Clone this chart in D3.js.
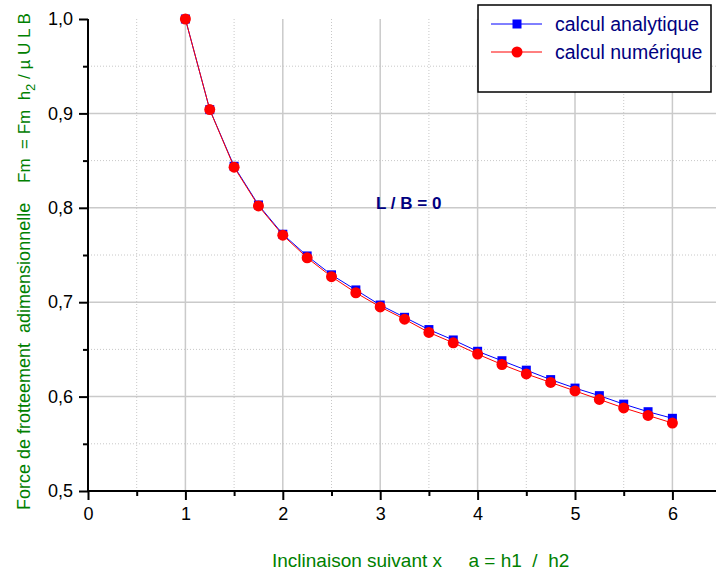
<!DOCTYPE html>
<html lang="fr">
<head>
<meta charset="UTF-8">
<title>Force de frottement adimensionnelle</title>
<script src="https://d3js.org/d3.v7.min.js"></script>
<style>
    body { margin: 0; background: #fff; }
    svg { display: block; font-family: "Liberation Sans", Arial, sans-serif; }
    .pre { white-space: pre; }
</style>
</head>
<body>
<svg id="chart" width="716" height="576"></svg>
<script>
// inclinaison a = h1 / h2
const inclinaison = [1, 1.25, 1.5, 1.75, 2, 2.25, 2.5, 2.75, 3, 3.25, 3.5,
    3.75, 4, 4.25, 4.5, 4.75, 5, 5.25, 5.5, 5.75, 6];

const calculAnalytique = [1.000, 0.904, 0.844, 0.803, 0.772, 0.749, 0.729, 0.713,
    0.697, 0.684, 0.671, 0.660, 0.648, 0.638, 0.628, 0.618, 0.609, 0.601, 0.592,
    0.584, 0.577];

const calculNumerique = [1.000, 0.904, 0.843, 0.802, 0.771, 0.747, 0.727, 0.710,
    0.695, 0.682, 0.668, 0.657, 0.645, 0.634, 0.624, 0.615, 0.606, 0.597, 0.588,
    0.580, 0.572];

const xMajor = [0, 1, 2, 3, 4, 5, 6];
const xMinor = [0.5, 1.5, 2.5, 3.5, 4.5, 5.5];
const yMajor = [0.5, 0.6, 0.7, 0.8, 0.9, 1.0];
const yMinor = [0.55, 0.65, 0.75, 0.85, 0.95];

const svg = d3.select("#chart");
const gauche = 88, droite = 714, haut = 19, bas = 491;

const x = d3.scaleLinear().domain([0, 6.427]).range([gauche, droite]);
const y = d3.scaleLinear().domain([0.5, 1.0]).range([bas, haut]);

// grille
const grid = svg.append("g");
grid.selectAll(".vmin").data(xMinor).enter().append("line")
    .attr("x1", d => x(d)).attr("x2", d => x(d))
    .attr("y1", haut).attr("y2", bas)
    .attr("stroke", "#c8c8c8").attr("stroke-dasharray", "1,2");
grid.selectAll(".hmin").data(yMinor).enter().append("line")
    .attr("x1", gauche).attr("x2", 716)
    .attr("y1", d => y(d)).attr("y2", d => y(d))
    .attr("stroke", "#c8c8c8").attr("stroke-dasharray", "1,2");
grid.selectAll(".vmaj").data(xMajor.slice(1)).enter().append("line")
    .attr("x1", d => x(d)).attr("x2", d => x(d))
    .attr("y1", haut).attr("y2", bas)
    .attr("stroke", "#cacaca").attr("stroke-width", 1.5);
grid.selectAll(".hmaj").data(yMajor.slice(1, -1)).enter().append("line")
    .attr("x1", gauche).attr("x2", 716)
    .attr("y1", d => y(d)).attr("y2", d => y(d))
    .attr("stroke", "#cacaca").attr("stroke-width", 1.5);

// axes
const virgule = d => d3.format(".1f")(d).replace(".", ",");

svg.append("g").attr("transform", `translate(${gauche},0)`)
    .call(d3.axisLeft(y).tickValues(yMajor).tickFormat(virgule).tickSize(9).tickSizeOuter(0).tickPadding(6));
svg.append("g").attr("transform", `translate(${gauche},0)`)
    .call(d3.axisLeft(y).tickValues(yMinor).tickFormat("").tickSize(5).tickSizeOuter(0));

svg.append("g").attr("transform", `translate(0,${bas})`)
    .call(d3.axisBottom(x).tickValues(xMajor).tickFormat(d3.format("d")).tickSize(9).tickSizeOuter(0).tickPadding(7));
svg.append("g").attr("transform", `translate(0,${bas})`)
    .call(d3.axisBottom(x).tickValues(xMinor).tickFormat("").tickSize(5).tickSizeOuter(0));

svg.selectAll(".domain").remove();
svg.selectAll(".tick line").attr("stroke", "#000").attr("stroke-width", 2);
svg.selectAll(".tick text").attr("font-size", 18).attr("fill", "#000")
    .attr("font-family", "'Liberation Sans', Arial, sans-serif");

svg.append("line").attr("x1", gauche).attr("x2", gauche).attr("y1", haut).attr("y2", bas + 1)
    .attr("stroke", "#000").attr("stroke-width", 2);
svg.append("line").attr("x1", gauche - 1).attr("x2", 716).attr("y1", bas).attr("y2", bas)
    .attr("stroke", "#000").attr("stroke-width", 2);

// courbes
const pts = vals => inclinaison.map((a, i) => [a, vals[i]]);
const line = d3.line().x(d => x(d[0])).y(d => y(d[1]));

svg.append("path").datum(pts(calculAnalytique)).attr("d", line)
    .attr("fill", "none").attr("stroke", "#0000ff").attr("stroke-width", 1);
svg.selectAll(".sq").data(pts(calculAnalytique)).enter().append("rect")
    .attr("x", d => x(d[0]) - 4.5).attr("y", d => y(d[1]) - 4.5)
    .attr("width", 9).attr("height", 9).attr("fill", "#0000ff");

svg.append("path").datum(pts(calculNumerique)).attr("d", line)
    .attr("fill", "none").attr("stroke", "#ff0000").attr("stroke-width", 1);
svg.selectAll(".dot").data(pts(calculNumerique)).enter().append("circle")
    .attr("cx", d => x(d[0])).attr("cy", d => y(d[1])).attr("r", 5.5)
    .attr("fill", "#ff0000");

// legende
const leg = svg.append("g");
leg.append("rect").attr("x", 478).attr("y", 5).attr("width", 233).attr("height", 87)
    .attr("fill", "#fff").attr("stroke", "#000").attr("stroke-width", 1.5);
const legItems = [
    { nom: "calcul analytique", couleur: "#0000ff", forme: "carre", yy: 24 },
    { nom: "calcul numérique", couleur: "#ff0000", forme: "rond", yy: 52 }
];
legItems.forEach(it => {
    leg.append("line").attr("x1", 491).attr("x2", 542).attr("y1", it.yy).attr("y2", it.yy)
        .attr("stroke", it.couleur).attr("stroke-width", 1);
    if (it.forme === "carre") {
        leg.append("rect").attr("x", 512.5).attr("y", it.yy - 4.5).attr("width", 9).attr("height", 9)
            .attr("fill", it.couleur);
    } else {
        leg.append("circle").attr("cx", 517).attr("cy", it.yy).attr("r", 5.5).attr("fill", it.couleur);
    }
    leg.append("text").attr("x", 555).attr("y", it.yy + 7).attr("font-size", 19.5)
        .attr("fill", "#000080").text(it.nom);
});

// annotation
svg.append("text").attr("x", 376).attr("y", 209).attr("font-size", 17)
    .attr("font-weight", "bold").attr("fill", "#000080").text("L / B = 0");

// titres des axes
svg.append("text").attr("class", "pre").attr("x", 272).attr("y", 567)
    .attr("font-size", 19).attr("fill", "#008000")
    .text("Inclinaison suivant x     a = h1  /  h2");

const yt = svg.append("g").attr("transform", "translate(30,510) rotate(-90)");
yt.append("text").attr("class", "pre").attr("x", 0).attr("y", 0)
    .attr("font-size", 18).attr("fill", "#008000")
    .text("Force de frotteement  adimensionnelle");
const yt2 = yt.append("text").attr("class", "pre").attr("x", 327).attr("y", 0)
    .attr("font-size", 17).attr("fill", "#008000");
yt2.append("tspan").text("Fm  = Fm  h");
yt2.append("tspan").attr("font-size", 13).attr("dy", 5).text("2");
yt2.append("tspan").attr("dy", -5).text(" / µ U L B");
</script>
</body>
</html>
